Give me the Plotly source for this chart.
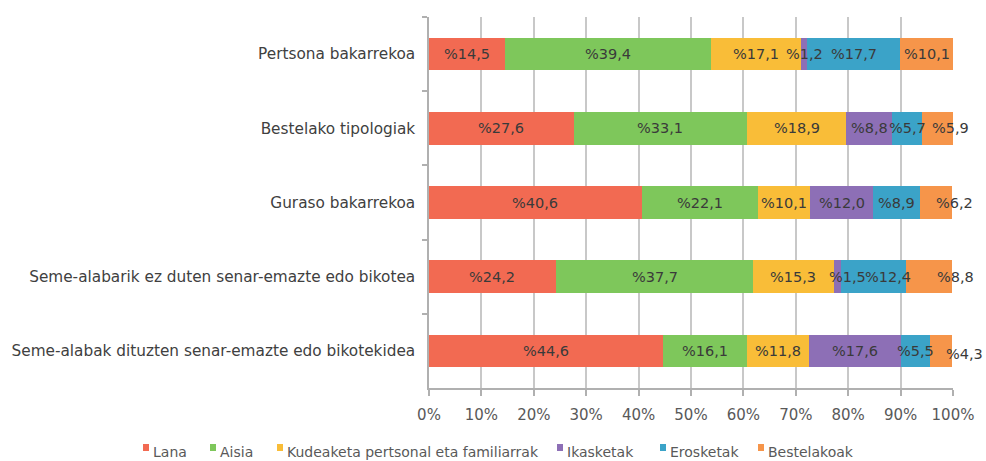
import plotly.graph_objects as go

# Household types, listed top to bottom
categories = [
    "Pertsona bakarrekoa",
    "Bestelako tipologiak",
    "Guraso bakarrekoa",
    "Seme-alabarik ez duten senar-emazte edo bikotea",
    "Seme-alabak dituzten senar-emazte edo bikotekidea",
]

# Share of time (%) per activity for each household type
lana = [14.5, 27.6, 40.6, 24.2, 44.6]
aisia = [39.4, 33.1, 22.1, 37.7, 16.1]
kudeaketa = [17.1, 18.9, 10.1, 15.3, 11.8]
ikasketak = [1.2, 8.8, 12.0, 1.5, 17.6]
erosketak = [17.7, 5.7, 8.9, 12.4, 5.5]
bestelakoak = [10.1, 5.9, 6.2, 8.8, 4.3]

series_names = ["Lana", "Aisia", "Kudeaketa pertsonal eta familiarrak",
                "Ikasketak", "Erosketak", "Bestelakoak"]
series_values = [lana, aisia, kudeaketa, ikasketak, erosketak, bestelakoak]
series_colors = ["#f26a52", "#7ec75b", "#f9bd38", "#8d6fb6", "#3ba3c8", "#f6954a"]

x_ticks = [0, 10, 20, 30, 40, 50, 60, 70, 80, 90, 100]
x_tick_labels = [f"{t}%" for t in x_ticks]

# Pixel nudges for labels on narrow segments, keyed by (series, row)
label_nudge = {
    (3, 3): (10, 0), (4, 3): (14, 0),
    (5, 1): (13, 0), (5, 2): (18, 0), (5, 3): (26, 0), (5, 4): (23, -3),
}

FONT = "DejaVu Sans"
W, H = 986, 461
M_L, M_R, M_T, M_B = 429, 33, 17, 73

fig = go.Figure()
annotations = []
running = [0.0] * len(categories)
for s, (name, vals, col) in enumerate(zip(series_names, series_values, series_colors)):
    fig.add_trace(go.Bar(
        name=name,
        y=categories,
        x=vals,
        orientation="h",
        marker=dict(color=col, line=dict(width=0)),
        showlegend=False,
        width=0.44,
        hoverinfo="x+y+name",
    ))
    # value label centred on each segment
    for i, (cat, v) in enumerate(zip(categories, vals)):
        dx, dy = label_nudge.get((s, i), (0, 0))
        annotations.append(dict(
            x=running[i] + v / 2, y=cat, xref="x", yref="y",
            xshift=dx, yshift=dy,
            text="%" + f"{v:.1f}".replace(".", ","),
            showarrow=False, xanchor="center", yanchor="middle",
            font=dict(family=FONT, size=14.5, color="#3a3a3a"),
        ))
        running[i] += v

# Legend: small colour squares followed by the series name
legend_x = [143, 210, 277, 557, 660, 758]
plot_w = W - M_L - M_R
plot_h = H - M_T - M_B
shapes = []
for name, col, px in zip(series_names, series_colors, legend_x):
    x0 = (px - M_L) / plot_w
    x1 = (px + 6 - M_L) / plot_w
    y_top = (H - M_B - 444) / plot_h
    y_bot = (H - M_B - 451) / plot_h
    shapes.append(dict(type="rect", xref="paper", yref="paper",
                       x0=x0, x1=x1, y0=y_bot, y1=y_top,
                       fillcolor=col, line=dict(width=0)))
    annotations.append(dict(
        x=(px + 8 - M_L) / plot_w, y=(H - M_B - 452) / plot_h,
        xref="paper", yref="paper", xanchor="left", yanchor="middle",
        text=name, showarrow=False,
        font=dict(family=FONT, size=14, color="#595959"),
    ))

fig.update_layout(
    width=W, height=H,
    margin=dict(l=M_L, r=M_R, t=M_T, b=M_B, pad=0),
    barmode="stack",
    plot_bgcolor="white",
    paper_bgcolor="white",
    shapes=shapes,
    annotations=annotations,
    xaxis=dict(
        range=[0, 100],
        tickvals=x_ticks,
        ticktext=x_tick_labels,
        showgrid=True,
        gridcolor="#c8c8c8",
        gridwidth=1.6,
        showline=True,
        linecolor="#b0b0b0",
        linewidth=1.5,
        ticks="outside",
        ticklen=6,
        tickcolor="#b0b0b0",
        tickwidth=1.5,
        ticklabelstandoff=6,
        zeroline=False,
        tickfont=dict(family=FONT, size=15, color="#595959"),
        fixedrange=True,
    ),
    yaxis=dict(
        categoryorder="array",
        categoryarray=categories,
        autorange="reversed",
        showgrid=False,
        showline=True,
        linecolor="#b0b0b0",
        linewidth=1.5,
        ticks="outside",
        tickson="boundaries",
        ticklen=5,
        tickcolor="#b0b0b0",
        tickwidth=1.5,
        ticklabelstandoff=9,
        tickfont=dict(family=FONT, size=15.3, color="#404040"),
        fixedrange=True,
    ),
)

fig.write_html("out.html")
